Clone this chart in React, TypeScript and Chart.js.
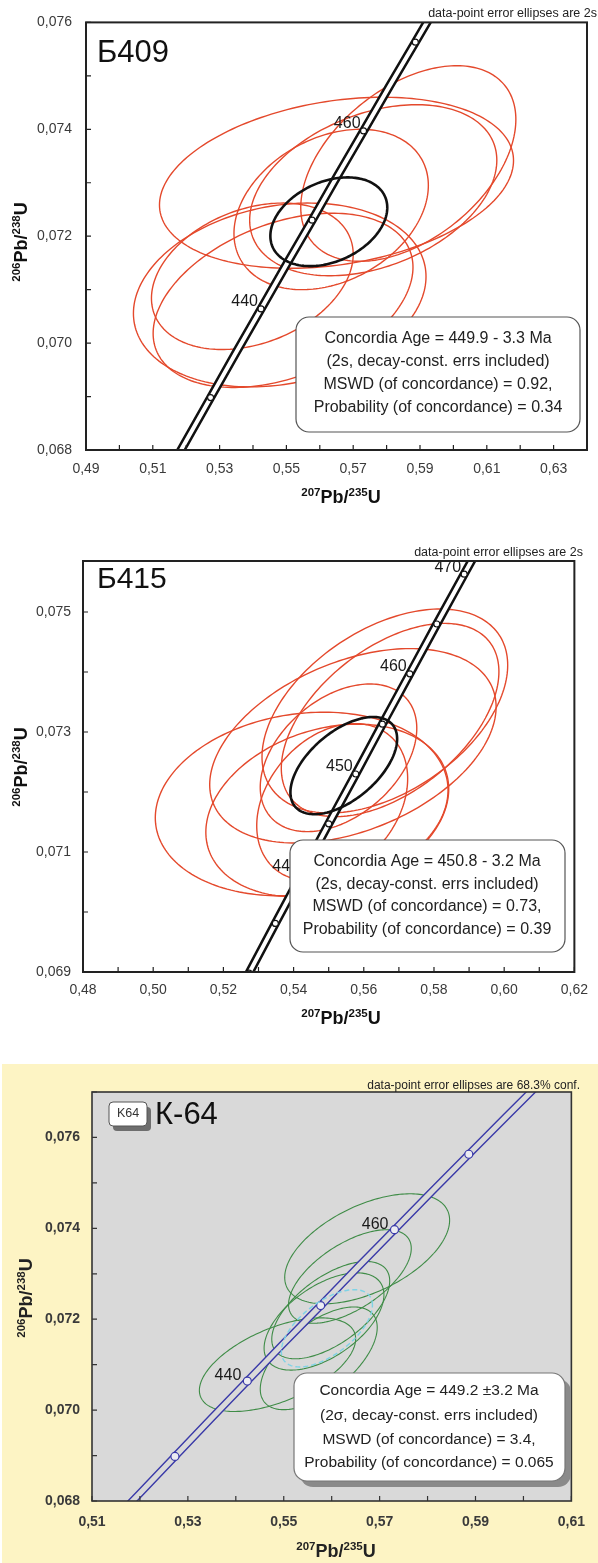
import React, { useEffect, useRef } from "react";
import { Chart, registerables } from "chart.js";
Chart.register(...registerables);

const FONT = '"Liberation Sans", Arial, Helvetica, sans-serif';
Chart.defaults.font.family = FONT;

// ---- Concordia nodes (age in Ma, 207Pb/235U, 206Pb/238U) ----
const CONC_AGE = [405, 410, 415, 420, 425, 430, 435, 440, 445, 450, 455, 460, 465, 470, 475, 480, 485, 490];
const CONC_PB207_U235 = [0.4901, 0.4975, 0.5049, 0.5123, 0.5198, 0.5273, 0.5348, 0.5424, 0.5500, 0.5577, 0.5653, 0.5731, 0.5808, 0.5886, 0.5965, 0.6044, 0.6123, 0.6202];
const CONC_PB206_U238 = [0.06484, 0.06567, 0.06649, 0.06732, 0.06815, 0.06898, 0.06981, 0.07064, 0.07147, 0.07230, 0.07313, 0.07397, 0.07480, 0.07563, 0.07647, 0.07730, 0.07814, 0.07898];

// ---- Panel 1: Б409 ----
const P1_MARK_AGES = [430, 440, 450, 460, 470];
const P1_LABEL_AGES = [440, 460];
const P1_X_LABELS = [0.49, 0.51, 0.53, 0.55, 0.57, 0.59, 0.61, 0.63];
const P1_Y_LABELS = [0.068, 0.070, 0.072, 0.074, 0.076];
const P1_ELL_CX = [0.5650, 0.5865, 0.5634, 0.5760, 0.5480, 0.5490, 0.5398];
const P1_ELL_CY = [0.0730, 0.07336, 0.0725, 0.07286, 0.0709, 0.0708, 0.07125];
const P1_ELL_SX = [0.0530, 0.0322, 0.0291, 0.0370, 0.0438, 0.0389, 0.0302];
const P1_ELL_SY = [0.00160, 0.00183, 0.00150, 0.00160, 0.00172, 0.00163, 0.00137];
const P1_ELL_RHO = [0.26, 0.45, 0.30, 0.35, 0.20, 0.38, 0.30];
const P1_MEAN = [0.5627, 0.07227, 0.0175, 0.00083, 0.32];
const P1_BOX = ["Concordia Age = 449.9 - 3.3 Ma", "(2s, decay-const. errs included)", "MSWD (of concordance) = 0.92,", "Probability (of concordance) = 0.34"];

// ---- Panel 2: Б415 ----
const P2_MARK_AGES = [430, 435, 440, 445, 450, 455, 460, 465, 470, 475];
const P2_LABEL_AGES = [440, 450, 460, 470];
const P2_X_LABELS = [0.48, 0.50, 0.52, 0.54, 0.56, 0.58, 0.60, 0.62];
const P2_Y_LABELS = [0.069, 0.071, 0.073, 0.075];
const P2_ELL_CX = [0.5660, 0.5569, 0.5675, 0.5528, 0.5423, 0.5496, 0.5510];
const P2_ELL_CY = [0.07335, 0.07277, 0.0732, 0.07257, 0.0718, 0.07169, 0.07183];
const P2_ELL_SX = [0.0350, 0.0408, 0.0310, 0.0223, 0.0417, 0.0346, 0.0215];
const P2_ELL_SY = [0.00170, 0.00162, 0.00161, 0.00123, 0.00153, 0.00144, 0.00131];
const P2_ELL_RHO = [0.45, 0.40, 0.50, 0.40, 0.15, 0.25, 0.30];
const P2_MEAN = [0.5543, 0.07244, 0.0152, 0.00081, 0.55];
const P2_BOX = ["Concordia Age = 450.8 - 3.2 Ma", "(2s, decay-const. errs included)", "MSWD (of concordance) = 0.73,", "Probability (of concordance) = 0.39"];

// ---- Panel 3: К-64 ----
const P3_MARK_AGES = [430, 440, 450, 460, 470];
const P3_LABEL_AGES = [440, 460];
const P3_X_LABELS = [0.51, 0.53, 0.55, 0.57, 0.59, 0.61];
const P3_Y_LABELS = [0.068, 0.070, 0.072, 0.074, 0.076];
const P3_ELL_CX = [0.5674, 0.5638, 0.5598, 0.5584, 0.5487, 0.5573];
const P3_ELL_CY = [0.07355, 0.07294, 0.0722, 0.07195, 0.0710, 0.07114];
const P3_ELL_SX = [0.0172, 0.0128, 0.0123, 0.0125, 0.0163, 0.0122];
const P3_ELL_SY = [0.00121, 0.00103, 0.00107, 0.00107, 0.00103, 0.00113];
const P3_ELL_RHO = [0.52, 0.60, 0.60, 0.55, 0.55, 0.60];
const P3_MEAN = [0.5590, 0.0718, 0.0095, 0.00085, 0.60];
const P3_BOX = ["Concordia Age = 449.2 \u00b13.2 Ma", "(2\u03c3, decay-const. errs included)", "MSWD (of concordance) = 3.4,", "Probability (of concordance) = 0.065"];

const PANELS = [
  {
    left: 0, top: 0, width: 598, height: 520, bg: "transparent", plotBg: null,
    area: { left: 86, top: 22, right: 596, bottom: 450 },
    xMin: 0.49, xMax: 0.64, yMin: 0.068, yMax: 0.076,
    xLabels: P1_X_LABELS, yLabels: P1_Y_LABELS, yPad: 14, xPad: 11,
    tickFont: { size: 14, weight: "normal" }, tickColor: "#3a3a3a",
    marks: P1_MARK_AGES, ageLabels: P1_LABEL_AGES, labelDx: 3, labelDy: 7,
    ell: [P1_ELL_CX, P1_ELL_CY, P1_ELL_SX, P1_ELL_SY, P1_ELL_RHO], ellColor: "#e4492c", ellWidth: 1.4,
    mean: P1_MEAN, meanColor: "#111", meanWidth: 2.6, meanDash: null,
    concColor: "#111", concOuter: 9, concInner: "#ffffff", concInnerW: 4, markR: 3, markFill: "#fff",
    frameColor: "#222", frameW: 2,
    box: P1_BOX, boxRect: [296, 317, 284, 115], boxLines: [339, 362, 385, 408], boxCx: 438, boxFont: 16, boxShadow: null, boxBorder: "#555",
    title: "\u0411409", titleX: 97, titleY: 62, titleSize: 31,
    note: "data-point error ellipses are 2s", noteX: 597, noteY: 17, noteSize: 12.5,
    xTitle: [341, 497], yTitle: [21, 242], titleColor: "#111",
    tag: null,
  },
  {
    left: 0, top: 520, width: 598, height: 530, bg: "transparent", plotBg: null,
    area: { left: 83, top: 41, right: 583, bottom: 452 },
    xMin: 0.48, xMax: 0.62, yMin: 0.069, yMax: 0.07585,
    xLabels: P2_X_LABELS, yLabels: P2_Y_LABELS, yPad: 12, xPad: 10,
    tickFont: { size: 14, weight: "normal" }, tickColor: "#3a3a3a",
    marks: P2_MARK_AGES, ageLabels: P2_LABEL_AGES, labelDx: 3, labelDy: 7,
    ell: [P2_ELL_CX, P2_ELL_CY, P2_ELL_SX, P2_ELL_SY, P2_ELL_RHO], ellColor: "#e4492c", ellWidth: 1.4,
    mean: P2_MEAN, meanColor: "#111", meanWidth: 2.6, meanDash: null,
    concColor: "#111", concOuter: 9, concInner: "#ffffff", concInnerW: 4, markR: 3, markFill: "#fff",
    frameColor: "#222", frameW: 2,
    box: P2_BOX, boxRect: [290, 320, 275, 112], boxLines: [342, 365, 387, 410], boxCx: 427, boxFont: 16, boxShadow: null, boxBorder: "#555",
    title: "\u0411415", titleX: 97, titleY: 68, titleSize: 30,
    note: "data-point error ellipses are 2s", noteX: 583, noteY: 36, noteSize: 12.5,
    xTitle: [341, 498], yTitle: [21, 247], titleColor: "#111",
    tag: null,
  },
  {
    left: 2, top: 1064, width: 596, height: 499, bg: "#fdf4c4", plotBg: "#d9d9d9",
    area: { left: 90, top: 28, right: 578, bottom: 437 },
    xMin: 0.51, xMax: 0.61, yMin: 0.068, yMax: 0.077,
    xLabels: P3_X_LABELS, yLabels: P3_Y_LABELS, yPad: 12, xPad: 13,
    tickFont: { size: 14, weight: "bold" }, tickColor: "#3a3a3a",
    marks: P3_MARK_AGES, ageLabels: P3_LABEL_AGES, labelDx: 6, labelDy: 5,
    ell: [P3_ELL_CX, P3_ELL_CY, P3_ELL_SX, P3_ELL_SY, P3_ELL_RHO], ellColor: "#3f8c47", ellWidth: 1.1,
    mean: P3_MEAN, meanColor: "#7fd3e6", meanWidth: 1.4, meanDash: [5, 3],
    concColor: "#3a3aa8", concOuter: 8, concInner: "#d9d9d9", concInnerW: 5.2, markR: 4, markFill: "#ececf2",
    frameColor: "#333", frameW: 1.6,
    box: P3_BOX, boxRect: [292, 309, 271, 108], boxLines: [327, 352, 376, 399], boxCx: 427, boxFont: 15.5, boxShadow: "#8a8a8a", boxBorder: "#777",
    title: "\u041a-64", titleX: 153, titleY: 60, titleSize: 31,
    note: "data-point error ellipses are 68.3% conf.", noteX: 578, noteY: 25, noteSize: 12,
    xTitle: [334, 487], yTitle: [24, 234], titleColor: "#222",
    tag: "K64",
  },
];

function fmtLabel(v: number, list: number[], dec: number) {
  return list.some((l) => Math.abs(l - v) < 1e-7) ? v.toFixed(dec).replace(".", ",") : "";
}

function ellipsePath(ctx: any, xs: any, ys: any, cx: number, cy: number, sx: number, sy: number, rho: number) {
  const r = Math.sqrt(1 - rho * rho);
  ctx.beginPath();
  const n = 200;
  for (let k = 0; k <= n; k++) {
    const t = (k / n) * Math.PI * 2;
    const x = cx + sx * Math.cos(t);
    const y = cy + sy * (rho * Math.cos(t) + r * Math.sin(t));
    const px = xs.getPixelForValue(x);
    const py = ys.getPixelForValue(y);
    if (k === 0) ctx.moveTo(px, py);
    else ctx.lineTo(px, py);
  }
  ctx.closePath();
}

function roundRect(ctx: any, x: number, y: number, w: number, h: number, r: number) {
  ctx.beginPath();
  ctx.moveTo(x + r, y);
  ctx.arcTo(x + w, y, x + w, y + h, r);
  ctx.arcTo(x + w, y + h, x, y + h, r);
  ctx.arcTo(x, y + h, x, y, r);
  ctx.arcTo(x, y, x + w, y, r);
  ctx.closePath();
}

function isoTitle(ctx: any, x: number, y: number, rot: number, parts: [string, boolean][], color: string) {
  ctx.save();
  ctx.translate(x, y);
  ctx.rotate(rot);
  const mainF = `bold 18px ${FONT}`;
  const supF = `bold 11.5px ${FONT}`;
  let total = 0;
  const widths = parts.map(([t, sup]) => {
    ctx.font = sup ? supF : mainF;
    const w = ctx.measureText(t).width;
    total += w;
    return w;
  });
  let cx = -total / 2;
  ctx.fillStyle = color;
  ctx.textAlign = "left";
  ctx.textBaseline = "alphabetic";
  parts.forEach(([t, sup], i) => {
    ctx.font = sup ? supF : mainF;
    ctx.fillText(t, cx, sup ? -1 : 6);
    cx += widths[i];
  });
  ctx.restore();
}

const ISO_X: [string, boolean][] = [["207", true], ["Pb/", false], ["235", true], ["U", false]];
const ISO_Y: [string, boolean][] = [["206", true], ["Pb/", false], ["238", true], ["U", false]];

function makeDecor(p: any) {
  return {
    id: "decor",
    beforeDraw(chart: any) {
      const { ctx, chartArea: a } = chart;
      if (p.plotBg) {
        ctx.save();
        ctx.fillStyle = p.plotBg;
        ctx.fillRect(a.left, a.top, a.right - a.left, a.bottom - a.top);
        ctx.restore();
      }
    },
    beforeDatasetsDraw(chart: any) {
      const { ctx, chartArea: a, scales } = chart;
      ctx.save();
      ctx.beginPath();
      ctx.rect(a.left, a.top, a.right - a.left, a.bottom - a.top);
      ctx.clip();
      ctx.strokeStyle = p.ellColor;
      ctx.lineWidth = p.ellWidth;
      const [cx, cy, sx, sy, rho] = p.ell;
      for (let i = 0; i < cx.length; i++) {
        ellipsePath(ctx, scales.x, scales.y, cx[i], cy[i], sx[i], sy[i], rho[i]);
        ctx.stroke();
      }
      ctx.restore();
    },
    afterDatasetsDraw(chart: any) {
      const { ctx, chartArea: a, scales } = chart;
      const xs = scales.x, ys = scales.y;
      // concordia age ellipse
      ctx.save();
      ctx.beginPath();
      ctx.rect(a.left, a.top, a.right - a.left, a.bottom - a.top);
      ctx.clip();
      ctx.strokeStyle = p.meanColor;
      ctx.lineWidth = p.meanWidth;
      if (p.meanDash) ctx.setLineDash(p.meanDash);
      const m = p.mean;
      ellipsePath(ctx, xs, ys, m[0], m[1], m[2], m[3], m[4]);
      ctx.stroke();
      ctx.restore();

      // age labels
      ctx.save();
      ctx.fillStyle = "#1a1a1a";
      ctx.font = `16px ${FONT}`;
      ctx.textAlign = "right";
      ctx.textBaseline = "middle";
      for (const age of p.ageLabels) {
        const i = CONC_AGE.indexOf(age);
        const px = xs.getPixelForValue(CONC_PB207_U235[i]);
        const py = ys.getPixelForValue(CONC_PB206_U238[i]);
        ctx.fillText(String(age), px - p.labelDx, py - p.labelDy);
      }
      ctx.restore();

      // frame
      ctx.save();
      ctx.strokeStyle = p.frameColor;
      ctx.lineWidth = p.frameW;
      ctx.strokeRect(a.left, a.top, a.right - a.left, a.bottom - a.top);
      // inward ticks
      ctx.lineWidth = 1.2;
      ctx.beginPath();
      for (const t of xs.ticks) {
        const px = xs.getPixelForValue(t.value);
        ctx.moveTo(px, a.bottom);
        ctx.lineTo(px, a.bottom - 5);
      }
      for (const t of ys.ticks) {
        const py = ys.getPixelForValue(t.value);
        ctx.moveTo(a.left, py);
        ctx.lineTo(a.left + 5, py);
      }
      ctx.stroke();
      ctx.restore();

      // results box
      ctx.save();
      const [bx, by, bw, bh] = p.boxRect;
      if (p.boxShadow) {
        ctx.fillStyle = p.boxShadow;
        roundRect(ctx, bx + 6, by + 6, bw, bh, 13);
        ctx.fill();
      }
      ctx.fillStyle = "#ffffff";
      roundRect(ctx, bx, by, bw, bh, 13);
      ctx.fill();
      ctx.strokeStyle = p.boxBorder;
      ctx.lineWidth = 1.2;
      ctx.stroke();
      ctx.fillStyle = "#222";
      ctx.font = `${p.boxFont}px ${FONT}`;
      ctx.textAlign = "center";
      ctx.textBaseline = "middle";
      p.box.forEach((line: string, i: number) => ctx.fillText(line, p.boxCx, p.boxLines[i]));
      ctx.restore();

      // sample tag (panel 3)
      ctx.save();
      if (p.tag) {
        ctx.fillStyle = "#6e6e6e";
        roundRect(ctx, 111, 43, 38, 24, 4);
        ctx.fill();
        ctx.fillStyle = "#ffffff";
        roundRect(ctx, 107, 38, 38, 24, 4);
        ctx.fill();
        ctx.strokeStyle = "#555";
        ctx.lineWidth = 1;
        ctx.stroke();
        ctx.fillStyle = "#333";
        ctx.font = `12.5px ${FONT}`;
        ctx.textAlign = "center";
        ctx.textBaseline = "middle";
        ctx.fillText(p.tag, 126, 50);
      }
      // sample title
      ctx.fillStyle = "#111";
      ctx.font = `${p.titleSize}px ${FONT}`;
      ctx.textAlign = "left";
      ctx.textBaseline = "alphabetic";
      ctx.fillText(p.title, p.titleX, p.titleY);
      // note
      ctx.fillStyle = "#222";
      ctx.font = `${p.noteSize}px ${FONT}`;
      ctx.textAlign = "right";
      ctx.fillText(p.note, p.noteX, p.noteY);
      ctx.restore();

      // axis titles
      isoTitle(ctx, p.xTitle[0], p.xTitle[1], 0, ISO_X, p.titleColor);
      isoTitle(ctx, p.yTitle[0], p.yTitle[1], -Math.PI / 2, ISO_Y, p.titleColor);
    },
  };
}

function buildConfig(p: any) {
  const conc = CONC_AGE.map((_, i) => ({ x: CONC_PB207_U235[i], y: CONC_PB206_U238[i] }));
  const marks = p.marks.map((age: number) => {
    const i = CONC_AGE.indexOf(age);
    return { x: CONC_PB207_U235[i], y: CONC_PB206_U238[i] };
  });
  const a = p.area;
  return {
    type: "scatter",
    data: {
      datasets: [
        { data: conc, showLine: true, borderColor: p.concColor, borderWidth: p.concOuter, pointRadius: 0, clip: 0, order: 3 },
        { data: conc, showLine: true, borderColor: p.concInner, borderWidth: p.concInnerW, pointRadius: 0, clip: 0, order: 2 },
        {
          data: marks, showLine: false, pointRadius: p.markR, pointBackgroundColor: p.markFill,
          pointBorderColor: p.concColor, pointBorderWidth: 1.2, clip: 0, order: 1,
        },
      ],
    },
    options: {
      animation: false,
      responsive: false,
      events: [],
      layout: { padding: { left: 0, top: a.top, right: p.width - a.right, bottom: 0 } },
      plugins: { legend: { display: false }, tooltip: { enabled: false } },
      scales: {
        x: {
          type: "linear", position: "bottom", min: p.xMin, max: p.xMax,
          grid: { display: false, drawTicks: false, tickLength: 0 }, border: { display: false },
          ticks: {
            stepSize: 0.01, autoSkip: false, maxRotation: 0, minRotation: 0, includeBounds: false,
            padding: p.xPad, color: p.tickColor, font: p.tickFont,
            callback: (v: number) => fmtLabel(v, p.xLabels, 2),
          },
          afterFit: (s: any) => { s.height = p.height - a.bottom; },
        },
        y: {
          type: "linear", position: "left", min: p.yMin, max: p.yMax,
          grid: { display: false, drawTicks: false, tickLength: 0 }, border: { display: false },
          ticks: {
            stepSize: 0.001, autoSkip: false, includeBounds: false,
            padding: p.yPad, color: p.tickColor, font: p.tickFont,
            callback: (v: number) => fmtLabel(v, p.yLabels, 3),
          },
          afterFit: (s: any) => { s.width = a.left; },
        },
      },
    },
    plugins: [makeDecor(p)],
  };
}

function Panel({ p }: { p: any }) {
  const ref = useRef<HTMLCanvasElement | null>(null);
  useEffect(() => {
    const chart = new Chart(ref.current as any, buildConfig(p) as any);
    return () => chart.destroy();
  }, [p]);
  return (
    <canvas
      ref={ref}
      width={p.width}
      height={p.height}
      style={{ position: "absolute", left: p.left, top: p.top, width: p.width, height: p.height, background: p.bg }}
    />
  );
}

export default function App() {
  return (
    <div style={{ position: "absolute", left: 0, top: 0, width: 598, height: 1563, background: "#fff", overflow: "hidden" }}>
      {PANELS.map((p, i) => (
        <Panel key={i} p={p} />
      ))}
    </div>
  );
}
